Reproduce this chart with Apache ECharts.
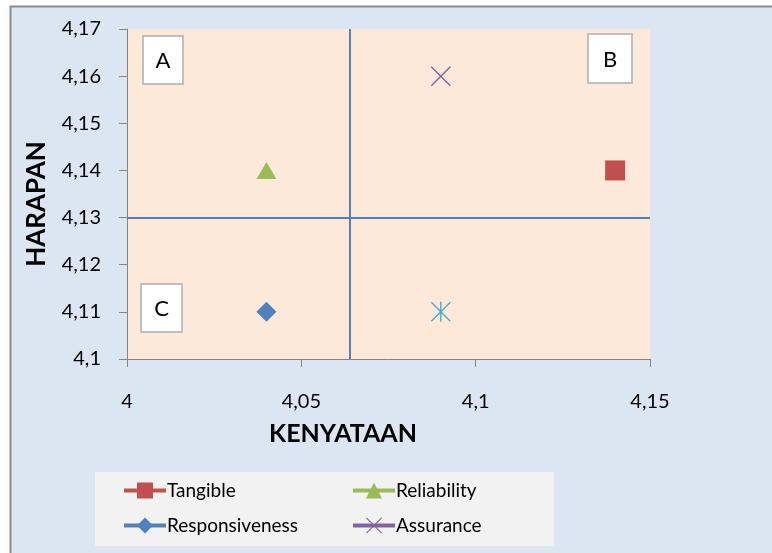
<!DOCTYPE html>
<html>
<head>
<meta charset="utf-8">
<script src="https://cdn.jsdelivr.net/npm/echarts@6/dist/echarts.min.js"></script>
<style>
  html, body { margin: 0; padding: 0; background: #ffffff; }
  #chart { width: 772px; height: 553px; }
</style>
</head>
<body>
<div id="chart"></div>
<script>
  // values
  var seriesNames = ['Tangible', 'Reliability', 'Responsiveness', 'Assurance'];
  var kenyataan = [4.14, 4.04, 4.04, 4.09];
  var harapan = [4.14, 4.14, 4.11, 4.16];
  var extraPoint = [4.09, 4.11];
  var meanKenyataan = 4.064;
  var meanHarapan = 4.13;
  var xTicks = [4, 4.05, 4.1, 4.15];
  var yTicks = [4.1, 4.11, 4.12, 4.13, 4.14, 4.15, 4.16, 4.17];

  var colors = ['#c0504d', '#9bbb59', '#4f81bd', '#8064a2'];
  var symbols = [
    'rect',
    'triangle',
    'diamond',
    'path://M0,1 L1,0 L10,9 L19,0 L20,1 L11,10 L20,19 L19,20 L10,11 L1,20 L0,19 L9,10 Z'
  ];
  var starPath = 'path://M0,1 L1,0 L10,9 L19,0 L20,1 L11,10 L20,19 L19,20 L10,11 L1,20 L0,19 L9,10 Z M9.3,0 L10.7,0 L10.7,20 L9.3,20 Z';
  var font = 'Lato, "Open Sans", sans-serif';

  function comma(v) {
    return String(+Number(v).toFixed(4)).replace('.', ',');
  }

  var xMin = xTicks[0], xMax = xTicks[xTicks.length - 1];
  var yMin = yTicks[0], yMax = yTicks[yTicks.length - 1];

  var chart = echarts.init(document.getElementById('chart'), null, { renderer: 'canvas' });

  var series = seriesNames.map(function (name, i) {
    return {
      name: name,
      type: 'line',
      data: [[kenyataan[i], harapan[i]]],
      symbol: symbols[i],
      symbolSize: i === 1 ? [20, 17] : 20,
      showSymbol: true,
      itemStyle: { color: colors[i] },
      lineStyle: { color: colors[i], width: 4 },
      z: 5
    };
  });
  series.push({
    name: 'Series5',
    type: 'line',
    data: [extraPoint],
    symbol: starPath,
    symbolSize: 20,
    itemStyle: { color: '#4bacc6' },
    lineStyle: { width: 0 },
    z: 5,
    markLine: {
      silent: true,
      symbol: 'none',
      label: { show: false },
      precision: 4,
      lineStyle: { color: '#4f81bd', width: 2, type: 'solid' },
      data: [
        [{ coord: [meanKenyataan, yMin] }, { coord: [meanKenyataan, yMax] }],
        [{ coord: [xMin, meanHarapan] }, { coord: [xMax, meanHarapan] }]
      ]
    }
  });

  var quadrants = [
    { text: 'A', left: 143, top: 36, w: 40, h: 48 },
    { text: 'B', left: 588, top: 34, w: 44, h: 49 },
    { text: 'C', left: 141, top: 284, w: 41, h: 48 }
  ];

  var graphics = [
    { type: 'rect', z: -10, shape: { x: 10.5, y: 6.5, width: 800, height: 600 }, style: { fill: '#dce6f2', stroke: '#8c8c8c', lineWidth: 2 } },
    { type: 'rect', z: -9, shape: { x: 95, y: 472, width: 459, height: 74 }, style: { fill: '#f2f2f2' } },
    { type: 'text', x: 343, y: 434, style: { text: 'KENYATAAN', font: 'bold 25px ' + font, fill: '#000', align: 'center', verticalAlign: 'middle' } },
    { type: 'text', x: 37, y: 204, rotation: Math.PI / 2, style: { text: 'HARAPAN', font: 'bold 26px ' + font, fill: '#000', align: 'center', verticalAlign: 'middle' } }
  ];
  quadrants.forEach(function (q) {
    graphics.push({
      type: 'rect', z: 20,
      shape: { x: q.left, y: q.top, width: q.w, height: q.h },
      style: { fill: '#ffffff', stroke: '#bfbfbf', lineWidth: 2 }
    });
    graphics.push({
      type: 'text', z: 21,
      x: q.left + q.w / 2, y: q.top + q.h / 2 + 1,
      style: { text: q.text, font: '22px ' + font, fill: '#000', align: 'center', verticalAlign: 'middle' }
    });
  });

  var legendCommon = {
    orient: 'vertical',
    top: 481,
    itemGap: 16,
    itemWidth: 42,
    itemHeight: 20,
    padding: 0,
    selectedMode: false,
    lineStyle: { width: 4 },
    textStyle: { fontFamily: font, fontSize: 19, color: '#000', padding: [0, 0, 0, -4] }
  };

  chart.setOption({
    backgroundColor: '#ffffff',
    animation: false,
    graphic: graphics,
    grid: { left: 127, top: 29, width: 523, height: 330, backgroundColor: '#fde9d9', borderWidth: 0, show: true },
    legend: [
      Object.assign({ left: 122, data: [seriesNames[0], seriesNames[2]] }, legendCommon),
      Object.assign({ left: 351, data: [seriesNames[1], seriesNames[3]] }, legendCommon)
    ],
    xAxis: {
      type: 'value',
      min: xMin,
      max: xMax,
      interval: 0.05,
      axisLine: { show: true, lineStyle: { color: '#868686', width: 1 } },
      axisTick: { show: true, length: 8, lineStyle: { color: '#868686' } },
      splitLine: { show: false },
      axisLabel: { margin: 33, fontFamily: font, fontSize: 20, color: '#000', formatter: comma }
    },
    yAxis: {
      type: 'value',
      min: yMin,
      max: yMax,
      interval: 0.01,
      axisLine: { show: true, lineStyle: { color: '#868686', width: 1 } },
      axisTick: { show: true, length: 8, lineStyle: { color: '#868686' } },
      splitLine: { show: false },
      axisLabel: { margin: 26, fontFamily: font, fontSize: 20, color: '#000', formatter: comma }
    },
    series: series
  });
</script>
</body>
</html>
